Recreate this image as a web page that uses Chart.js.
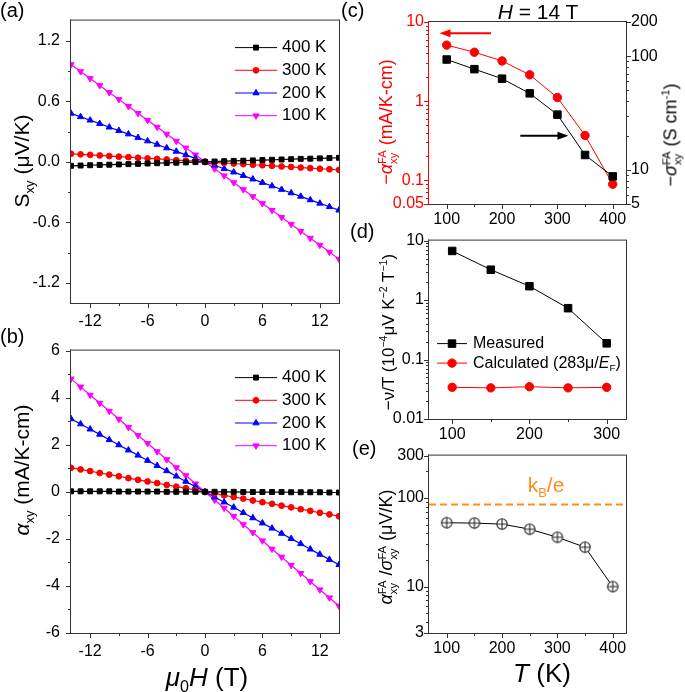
<!DOCTYPE html>
<html>
<head>
<meta charset="utf-8">
<script src="https://cdn.jsdelivr.net/npm/chart.js@4/dist/chart.umd.min.js"></script>
<style>
  body { margin: 0; background: #fff; width: 685px; height: 692px; position: relative; overflow: hidden;
         font-family: "Liberation Sans", Arial, sans-serif; }
  canvas { position: absolute; }
  .t { position: absolute; white-space: nowrap; color: #000; line-height: 1; z-index: 5; }
  .rot { transform: translate(-50%, -50%) rotate(-90deg); }
  .ctr { transform: translate(-50%, -50%); }
  .ss { display: inline-block; vertical-align: -0.42em; font-size: 0.62em; line-height: 0.95; text-align: left; }
  sub, sup { font-size: 0.62em; line-height: 0; }
  i { font-style: italic; }
</style>
</head>
<body>
<canvas id="chartA" width="345" height="333" style="left:0;top:0"></canvas>
<canvas id="chartB" width="345" height="333" style="left:0;top:330px"></canvas>
<canvas id="chartC" width="345" height="234" style="left:340px;top:0"></canvas>
<canvas id="chartD" width="345" height="223" style="left:340px;top:226px"></canvas>
<canvas id="chartE" width="345" height="222" style="left:340px;top:441px"></canvas>

<div class="t" style="left:0;top:0;font-size:20px">(a)</div>
<div class="t" style="left:0;top:326px;font-size:20px">(b)</div>
<div class="t" style="left:341px;top:0;font-size:20px">(c)</div>
<div class="t" style="left:350px;top:221px;font-size:20px">(d)</div>
<div class="t" style="left:352px;top:438px;font-size:20px">(e)</div>

<div class="t ctr" style="left:538px;top:11px;font-size:21px"><i>H</i> = 14 T</div>
<div class="t rot" style="left:21px;top:161px;font-size:21px">S<sub>xy</sub> (μV/K)</div>
<div class="t rot" style="left:21px;top:470px;font-size:21px"><i>α</i><sub>xy</sub> (mA/K-cm)</div>
<div class="t ctr" style="left:207px;top:677px;font-size:26px"><i>μ</i><sub>0</sub><i>H</i> (T)</div>
<div class="t rot" style="left:388px;top:122px;font-size:18px;color:#ff0000">−<i>α</i><span class="ss">FA<br>xy</span> (mA/K-cm)</div>
<div class="t rot" style="left:672px;top:135px;font-size:18px">−<i>σ</i><span class="ss">FA<br>xy</span> (S cm<sup>-1</sup>)</div>
<div class="t rot" style="left:388px;top:332px;font-size:17px">−ν/T (10<sup>−4</sup>μV K<sup>−2</sup> T<sup>−1</sup>)</div>
<div class="t rot" style="left:388px;top:547px;font-size:18px"><i>α</i><span class="ss">FA<br>xy</span> /<i>σ</i><span class="ss">FA<br>xy</span> (μV/K)</div>
<div class="t ctr" style="left:542px;top:673px;font-size:26px"><i>T</i> (K)</div>
<div class="t ctr" style="left:546px;top:484px;font-size:21px;color:#ff8c1a">k<sub>B</sub>/e</div>

<script>
const FONT = '"Liberation Sans", Arial, sans-serif';
Chart.defaults.font.family = FONT;

// ---- (a)/(b) field sweeps ----
const FIELD = [-14, -13, -12, -11, -10, -9, -8, -7, -6, -5, -4, -3, -2, -1, 0,
  1, 2, 3, 4, 5, 6, 7, 8, 9, 10, 11, 12, 13, 14];
const TEMP_LABELS = ['400 K', '300 K', '200 K', '100 K'];

const S_400 = [-0.040, -0.037, -0.034, -0.031, -0.029, -0.026, -0.023, -0.020, -0.017, -0.014, -0.011, -0.009, -0.006, -0.003, 0.000,
  0.003, 0.006, 0.009, 0.011, 0.014, 0.017, 0.020, 0.023, 0.026, 0.029, 0.031, 0.034, 0.037, 0.040];
const S_300 = [0.080, 0.074, 0.069, 0.063, 0.057, 0.051, 0.046, 0.040, 0.034, 0.029, 0.023, 0.017, 0.011, 0.006, 0.000,
  -0.006, -0.011, -0.017, -0.023, -0.029, -0.034, -0.040, -0.046, -0.051, -0.057, -0.063, -0.069, -0.074, -0.080];
const S_200 = [0.480, 0.446, 0.412, 0.378, 0.343, 0.309, 0.275, 0.240, 0.206, 0.172, 0.137, 0.103, 0.069, 0.034, 0.000,
  -0.034, -0.069, -0.103, -0.137, -0.172, -0.206, -0.240, -0.275, -0.309, -0.343, -0.378, -0.412, -0.446, -0.480];
const S_100 = [0.965, 0.895, 0.826, 0.757, 0.688, 0.619, 0.550, 0.481, 0.413, 0.344, 0.275, 0.206, 0.138, 0.069, 0.000,
  -0.069, -0.138, -0.206, -0.275, -0.344, -0.413, -0.481, -0.550, -0.619, -0.688, -0.757, -0.826, -0.895, -0.965];

const A_400 = [0.02, 0.02, 0.02, 0.02, 0.02, 0.01, 0.01, 0.01, 0.01, 0.01, 0.00, 0.00, 0.00, 0.00, 0.00,
  0.00, 0.00, 0.00, -0.01, -0.01, -0.01, -0.01, -0.01, -0.02, -0.02, -0.02, -0.02, -0.03, -0.03];
const A_300 = [1.02, 0.95, 0.88, 0.80, 0.73, 0.66, 0.58, 0.51, 0.44, 0.37, 0.29, 0.22, 0.15, 0.07, 0.00,
  -0.07, -0.15, -0.22, -0.29, -0.37, -0.44, -0.51, -0.59, -0.66, -0.74, -0.81, -0.89, -0.96, -1.04];
const A_200 = [3.10, 2.88, 2.66, 2.44, 2.21, 1.99, 1.77, 1.55, 1.33, 1.11, 0.89, 0.66, 0.44, 0.22, 0.00,
  -0.22, -0.44, -0.66, -0.89, -1.11, -1.33, -1.55, -1.77, -1.99, -2.21, -2.44, -2.66, -2.88, -3.10];
const A_100 = [4.80, 4.46, 4.11, 3.77, 3.43, 3.09, 2.74, 2.40, 2.06, 1.71, 1.37, 1.03, 0.69, 0.34, 0.00,
  -0.35, -0.69, -1.04, -1.39, -1.73, -2.08, -2.43, -2.77, -3.12, -3.46, -3.81, -4.16, -4.50, -4.85];

// ---- (c) ----
const T_C = [100, 150, 200, 250, 300, 350, 400];
const ALPHA_FA = [5.1, 4.15, 3.22, 2.15, 1.11, 0.368, 0.089];
const SIGMA_FA = [93.5, 76.9, 63.4, 47.1, 30.6, 13.5, 8.75];

// ---- (d) ----
const T_D = [100, 150, 200, 250, 300];
const NU_MEASURED = [6.7, 3.24, 1.71, 0.73, 0.187];
const NU_CALC = [0.0341, 0.0334, 0.0349, 0.0334, 0.0341];

// ---- (e) ----
const RATIO = [52.5, 52.0, 50.7, 44.4, 36.0, 27.8, 10.0];
const KB_OVER_E = 86.2;

// tick labels
const FIELD_TICKS = [-12, -6, 0, 6, 12];
const FIELD_MINOR = [-9, -3, 3, 9];
const S_TICKS = [-1.2, -0.6, 0, 0.6, 1.2];
const S_MINOR = [-0.9, -0.3, 0.3, 0.9];
const A_TICKS = [-6, -4, -2, 0, 2, 4, 6];
const A_MINOR = [-5, -3, -1, 1, 3, 5];
const T_TICKS = [100, 200, 300, 400];
const T_MINOR = [150, 250, 350];
const TD_TICKS = [100, 200, 300];
const TD_MINOR = [150, 250];
const ALPHA_TICKS = [0.05, 0.1, 1, 10];
const SIGMA_TICKS = [5, 10, 100, 200];
const NU_TICKS = [0.01, 0.1, 1, 10];
const RATIO_TICKS = [3, 10, 100, 300];

const RED = '#ff0000', BLUE = '#0000ff', MAGENTA = '#ff00ff', BLACK = '#000000', ORANGE = '#ff8c1a';
const FRAME = '#333333';

function logMinor(min, max, majors) {
  const out = [];
  for (let e = -3; e <= 3; e++) {
    for (let m = 1; m < 10; m++) {
      const v = +(m * Math.pow(10, e)).toPrecision(3);
      if (v >= min * 0.999 && v <= max * 1.001 && !majors.includes(v)) out.push(v);
    }
  }
  return out;
}

// per-canvas decoration (ticks, frame, legend, extras)
const DECO = {};

function axis(o) {
  return {
    type: o.type || 'linear',
    position: o.pos,
    min: o.min,
    max: o.max,
    grid: { display: false, drawTicks: false },
    border: { display: false },
    afterBuildTicks: s => { s.ticks = o.major.map(v => ({ value: v })); },
    afterFit: s => { if (s.isHorizontal()) s.height = o.thick; else s.width = o.thick; },
    ticks: {
      autoSkip: false, maxRotation: 0, minRotation: 0,
      color: o.color || BLACK, padding: o.pad,
      font: { family: FONT, size: o.size },
      callback: v => (o.fmt ? o.fmt(v) : String(v)),
    },
  };
}

function drawMarker(ctx, style, x, y, r, color) {
  ctx.save();
  ctx.fillStyle = color;
  ctx.strokeStyle = color;
  ctx.beginPath();
  if (style === 'rect') {
    const h = r * Math.SQRT1_2;
    ctx.rect(x - h, y - h, 2 * h, 2 * h);
  } else if (style === 'circle') {
    ctx.arc(x, y, r, 0, Math.PI * 2);
  } else if (style === 'triangle' || style === 'triangleDown') {
    const d = style === 'triangle' ? 1 : -1;
    const a = r * 0.866;
    ctx.moveTo(x, y - d * r);
    ctx.lineTo(x - a, y + d * r * 0.5);
    ctx.lineTo(x + a, y + d * r * 0.5);
    ctx.closePath();
  }
  ctx.fill();
  ctx.stroke();
  ctx.restore();
}

function drawRich(ctx, parts, x, y, size, color) {
  ctx.save();
  ctx.fillStyle = color || BLACK;
  ctx.textBaseline = 'middle';
  ctx.textAlign = 'left';
  let cx = x;
  for (const p of parts) {
    const [txt, st] = p;
    const fs = st === 'sub' ? size * 0.62 : size;
    ctx.font = (st === 'i' ? 'italic ' : '') + fs + 'px ' + FONT;
    ctx.fillText(txt, cx, st === 'sub' ? y + size * 0.3 : y);
    cx += ctx.measureText(txt).width;
  }
  ctx.restore();
}

const decoPlugin = {
  id: 'deco',
  afterDatasetsDraw(chart) {
    const d = DECO[chart.canvas.id];
    if (!d) return;
    const ctx = chart.ctx, a = chart.chartArea;
    ctx.save();
    if (d.extras) d.extras(chart, ctx, a);
    // frame
    ctx.lineWidth = 1;
    ctx.strokeStyle = FRAME;
    ctx.strokeRect(a.left - 0.5, a.top - 0.5, a.right - a.left + 1, a.bottom - a.top + 1);
    // ticks
    for (const id in d.axes) {
      const s = chart.scales[id];
      const cfg = d.axes[id];
      ctx.strokeStyle = cfg.color || FRAME;
      ctx.beginPath();
      if (s.position === 'left') { ctx.moveTo(a.left - 0.5, a.top - 1); ctx.lineTo(a.left - 0.5, a.bottom + 1); }
      const marks = cfg.major.map(v => [v, 5]).concat(cfg.minor.map(v => [v, 3]));
      for (const [v, len] of marks) {
        const p = Math.round(s.getPixelForValue(v)) + 0.5;
        if (s.position === 'bottom') { ctx.moveTo(p, a.bottom); ctx.lineTo(p, a.bottom + len); }
        else if (s.position === 'left') { ctx.moveTo(a.left, p); ctx.lineTo(a.left - len, p); }
        else { ctx.moveTo(a.right, p); ctx.lineTo(a.right + len, p); }
      }
      ctx.stroke();
    }
    // legend
    if (d.legend) {
      const L = d.legend;
      chart.data.datasets.forEach((ds, i) => {
        if (!ds.label) return;
        const y = a.top + L.y0 + i * L.dy;
        ctx.strokeStyle = ds.borderColor;
        ctx.lineWidth = 1;
        ctx.beginPath();
        ctx.moveTo(a.left + L.x0, y);
        ctx.lineTo(a.left + L.x1, y);
        ctx.stroke();
        drawMarker(ctx, ds.markerName, a.left + (L.x0 + L.x1) / 2, y, ds.pointRadius, ds.borderColor);
        const parts = ds.richLabel || [[ds.label]];
        drawRich(ctx, parts, a.left + L.tx, y, L.size, BLACK);
      });
    }
    ctx.restore();
  },
};
Chart.register(decoPlugin);

function fieldSet(label, vals, color, marker, r) {
  return {
    label: label,
    data: FIELD.map((x, i) => ({ x: x, y: vals[i] })),
    borderColor: color, backgroundColor: color,
    borderWidth: 1.2,
    pointStyle: marker === 'triangleDown' ? 'triangle' : marker,
    pointRotation: marker === 'triangleDown' ? 180 : 0,
    markerName: marker,
    pointRadius: r, pointBorderWidth: 1,
  };
}

function baseOptions(padding, scales) {
  return {
    responsive: false, animation: false,
    layout: { padding: padding },
    plugins: { legend: { display: false }, tooltip: { enabled: false } },
    elements: { line: { tension: 0 } },
    scales: scales,
  };
}

// ---- (a) ----
DECO.chartA = {
  axes: {
    x: { major: FIELD_TICKS, minor: FIELD_MINOR },
    y: { major: S_TICKS, minor: S_MINOR },
  },
  legend: { x0: 164, x1: 206, tx: 211, y0: 27, dy: 22.7, size: 17 },
};
new Chart(document.getElementById('chartA'), {
  type: 'line',
  data: {
    datasets: [
      fieldSet(TEMP_LABELS[0], S_400, BLACK, 'rect', 3.5),
      fieldSet(TEMP_LABELS[1], S_300, RED, 'circle', 2.9),
      fieldSet(TEMP_LABELS[2], S_200, BLUE, 'triangle', 3.6),
      fieldSet(TEMP_LABELS[3], S_100, MAGENTA, 'triangleDown', 3.6),
    ],
  },
  options: baseOptions({ top: 15, right: 6, left: 0, bottom: 0 }, {
    x: axis({ pos: 'bottom', min: -14, max: 14, major: FIELD_TICKS, thick: 30, pad: 9, size: 16 }),
    y: axis({ pos: 'left', min: -1.4, max: 1.4, major: S_TICKS, thick: 71, pad: 11, size: 16, fmt: v => v.toFixed(1) }),
  }),
});

// ---- (b) ----
DECO.chartB = {
  axes: {
    x: { major: FIELD_TICKS, minor: FIELD_MINOR },
    y: { major: A_TICKS, minor: A_MINOR },
  },
  legend: { x0: 164, x1: 206, tx: 211, y0: 27, dy: 22.7, size: 17 },
};
new Chart(document.getElementById('chartB'), {
  type: 'line',
  data: {
    datasets: [
      fieldSet(TEMP_LABELS[0], A_400, BLACK, 'rect', 3.5),
      fieldSet(TEMP_LABELS[1], A_300, RED, 'circle', 2.9),
      fieldSet(TEMP_LABELS[2], A_200, BLUE, 'triangle', 3.6),
      fieldSet(TEMP_LABELS[3], A_100, MAGENTA, 'triangleDown', 3.6),
    ],
  },
  options: baseOptions({ top: 15, right: 6, left: 0, bottom: 0 }, {
    x: axis({ pos: 'bottom', min: -14, max: 14, major: FIELD_TICKS, thick: 30, pad: 9, size: 16 }),
    y: axis({ pos: 'left', min: -6, max: 6, major: A_TICKS, thick: 71, pad: 11, size: 16 }),
  }),
});

// ---- (c) ----
function arrow(ctx, x0, x1, y, color) {
  const dir = Math.sign(x1 - x0);
  ctx.save();
  ctx.strokeStyle = color; ctx.fillStyle = color; ctx.lineWidth = 2;
  ctx.beginPath();
  ctx.moveTo(x0, y); ctx.lineTo(x1 - dir * 8, y);
  ctx.stroke();
  ctx.beginPath();
  ctx.moveTo(x1, y); ctx.lineTo(x1 - dir * 11, y - 4); ctx.lineTo(x1 - dir * 11, y + 4);
  ctx.closePath(); ctx.fill();
  ctx.restore();
}
DECO.chartC = {
  axes: {
    x: { major: T_TICKS, minor: T_MINOR },
    y1: { major: SIGMA_TICKS, minor: logMinor(5, 200, SIGMA_TICKS) },
    y: { major: ALPHA_TICKS, minor: logMinor(0.05, 10, ALPHA_TICKS), color: RED },
  },
  extras(chart, ctx) {
    const sx = chart.scales.x, sy = chart.scales.y;
    arrow(ctx, sx.getPixelForValue(180), sx.getPixelForValue(87), sy.getPixelForValue(7.2), RED);
    arrow(ctx, sx.getPixelForValue(233), sx.getPixelForValue(320), sy.getPixelForValue(0.365), BLACK);
  },
};
new Chart(document.getElementById('chartC'), {
  type: 'line',
  data: {
    datasets: [
      {
        data: T_C.map((t, i) => ({ x: t, y: SIGMA_FA[i] })), yAxisID: 'y1',
        borderColor: BLACK, backgroundColor: BLACK, borderWidth: 1,
        pointStyle: 'rect', pointRadius: 5.3,
      },
      {
        data: T_C.map((t, i) => ({ x: t, y: ALPHA_FA[i] })), yAxisID: 'y',
        borderColor: RED, backgroundColor: RED, borderWidth: 1,
        pointStyle: 'circle', pointRadius: 4.2,
      },
    ],
  },
  options: baseOptions({ top: 22, right: 0, left: 0, bottom: 0 }, {
    x: axis({ pos: 'bottom', min: 68, max: 424, major: T_TICKS, thick: 30, pad: 6, size: 16 }),
    y: axis({ type: 'logarithmic', pos: 'left', min: 0.05, max: 10, major: ALPHA_TICKS, thick: 89, pad: 5, size: 16, color: RED }),
    y1: axis({ type: 'logarithmic', pos: 'right', min: 5, max: 200, major: SIGMA_TICKS, thick: 59, pad: 5, size: 16 }),
  }),
});

// ---- (d) ----
DECO.chartD = {
  axes: {
    x: { major: TD_TICKS, minor: TD_MINOR },
    y: { major: NU_TICKS, minor: logMinor(0.01, 10, NU_TICKS) },
  },
  legend: { x0: 8, x1: 38, tx: 44, y0: 103, dy: 19.5, size: 16 },
};
new Chart(document.getElementById('chartD'), {
  type: 'line',
  data: {
    datasets: [
      {
        label: 'Measured', markerName: 'rect',
        data: T_D.map((t, i) => ({ x: t, y: NU_MEASURED[i] })),
        borderColor: BLACK, backgroundColor: BLACK, borderWidth: 1,
        pointStyle: 'rect', pointRadius: 5.3,
      },
      {
        label: 'Calculated (283μ/EF)', markerName: 'circle',
        richLabel: [['Calculated (283μ/'], ['E', 'i'], ['F', 'sub'], [')']],
        data: T_D.map((t, i) => ({ x: t, y: NU_CALC[i] })),
        borderColor: RED, backgroundColor: RED, borderWidth: 1,
        pointStyle: 'circle', pointRadius: 4.2,
      },
    ],
  },
  options: baseOptions({ top: 10, right: 59, left: 0, bottom: 0 }, {
    x: axis({ pos: 'bottom', min: 70, max: 325, major: TD_TICKS, thick: 30, pad: 6, size: 16 }),
    y: axis({ type: 'logarithmic', pos: 'left', min: 0.01, max: 10, major: NU_TICKS, thick: 89, pad: 5, size: 16 }),
  }),
});

// ---- (e) ----
function circlePlus(r) {
  const c = document.createElement('canvas');
  const s = Math.ceil(2 * r + 3);
  c.width = c.height = s;
  const g = c.getContext('2d');
  const m = s / 2;
  g.fillStyle = '#fff'; g.strokeStyle = '#222'; g.lineWidth = 1.1;
  g.beginPath(); g.arc(m, m, r, 0, Math.PI * 2); g.fill(); g.stroke();
  g.beginPath(); g.moveTo(m - r, m); g.lineTo(m + r, m); g.moveTo(m, m - r); g.lineTo(m, m + r); g.stroke();
  return c;
}
DECO.chartE = {
  axes: {
    x: { major: T_TICKS, minor: T_MINOR },
    y: { major: RATIO_TICKS, minor: logMinor(3, 300, RATIO_TICKS) },
  },
  extras(chart, ctx, a) {
    const y = Math.round(chart.scales.y.getPixelForValue(KB_OVER_E)) + 0.5;
    ctx.save();
    ctx.strokeStyle = ORANGE; ctx.lineWidth = 2; ctx.setLineDash([7, 4]);
    ctx.beginPath(); ctx.moveTo(a.left, y); ctx.lineTo(a.right, y); ctx.stroke();
    ctx.restore();
  },
};
new Chart(document.getElementById('chartE'), {
  type: 'line',
  data: {
    datasets: [{
      data: T_C.map((t, i) => ({ x: t, y: RATIO[i] })),
      borderColor: BLACK, borderWidth: 1,
      pointStyle: circlePlus(5.2),
    }],
  },
  options: baseOptions({ top: 10, right: 59, left: 0, bottom: 0 }, {
    x: axis({ pos: 'bottom', min: 68, max: 424, major: T_TICKS, thick: 30, pad: 6, size: 16 }),
    y: axis({ type: 'logarithmic', pos: 'left', min: 3, max: 300, major: RATIO_TICKS, thick: 89, pad: 5, size: 16 }),
  }),
});
</script>
</body>
</html>
